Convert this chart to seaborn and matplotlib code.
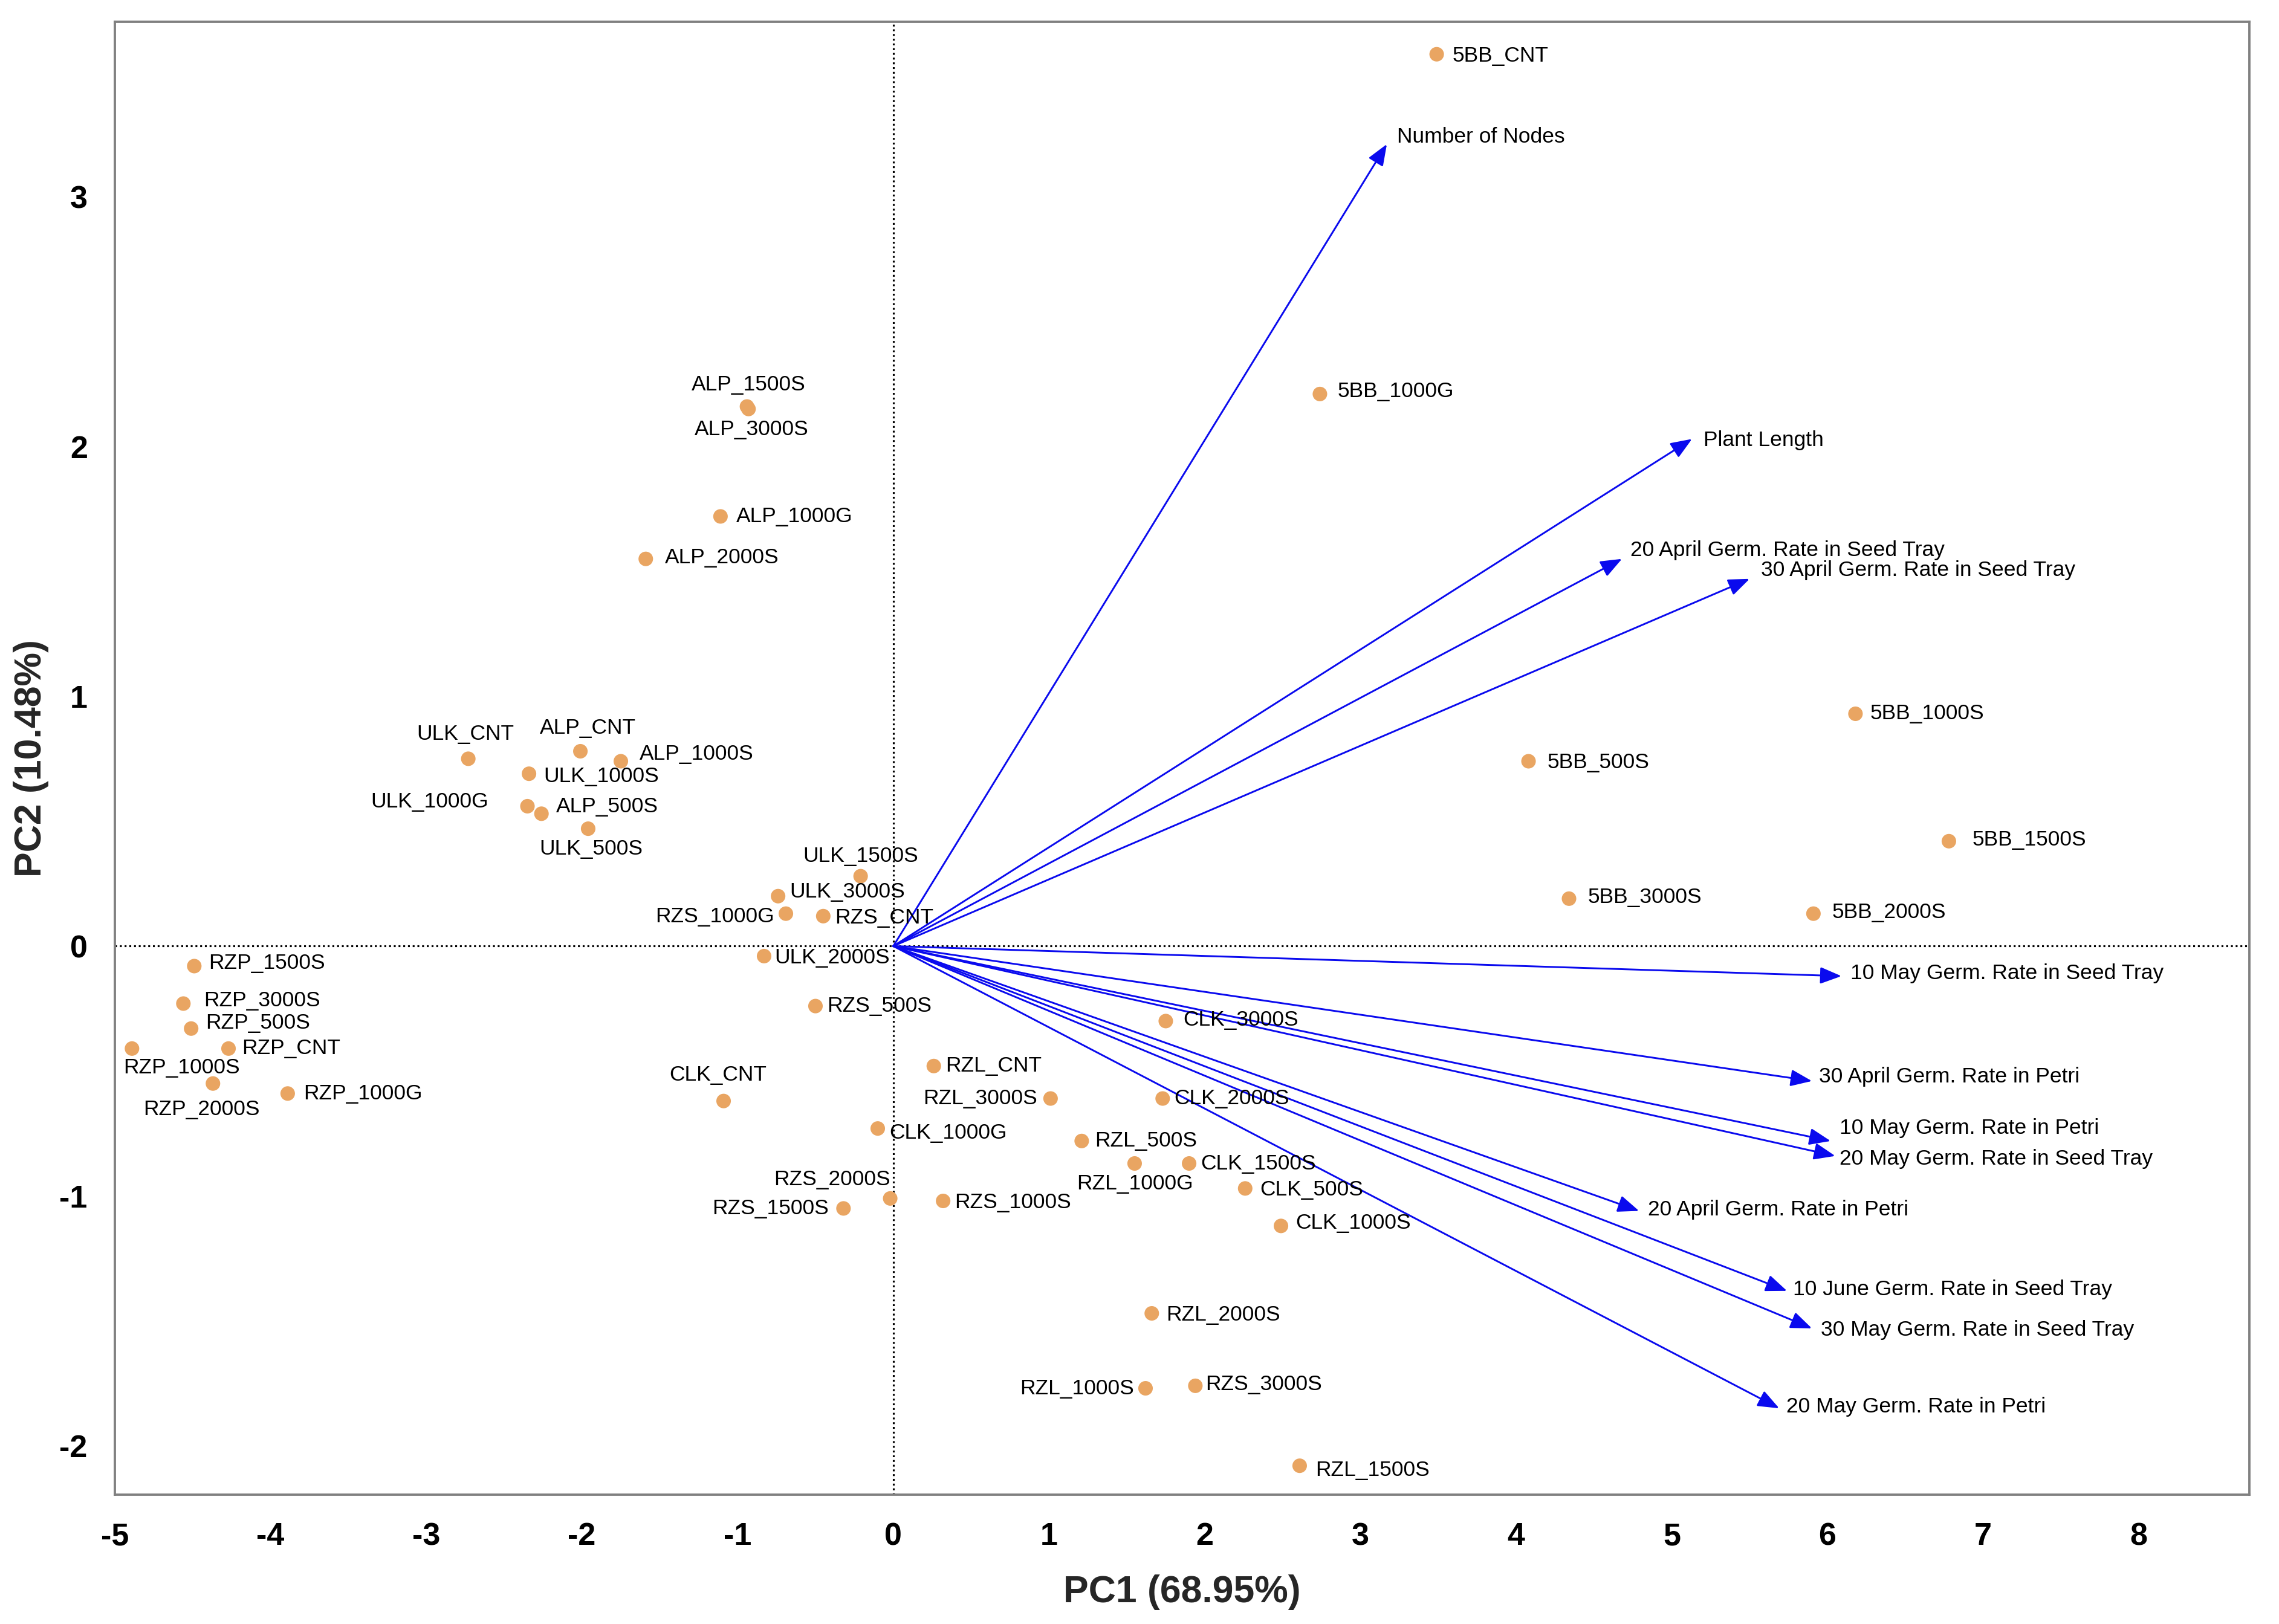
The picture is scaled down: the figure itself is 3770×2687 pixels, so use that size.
import pandas as pd
import seaborn as sns
import matplotlib.pyplot as plt

# ───────────────────────
# 1. Data (scores and loadings)
# ───────────────────────
sample_names = [
    "5BB_CNT", "5BB_1000G", "5BB_1000S", "5BB_500S", "5BB_1500S", "5BB_3000S", "5BB_2000S",
    "ALP_1500S", "ALP_3000S", "ALP_1000G", "ALP_2000S", "ALP_CNT", "ALP_1000S", "ALP_500S",
    "ULK_CNT", "ULK_1000S", "ULK_1000G", "ULK_500S", "ULK_1500S", "ULK_3000S", "ULK_2000S",
    "RZS_1000G", "RZS_CNT", "RZS_500S", "RZS_2000S", "RZS_1500S", "RZS_1000S", "RZS_3000S",
    "RZP_1500S", "RZP_3000S", "RZP_500S", "RZP_CNT", "RZP_1000S", "RZP_2000S", "RZP_1000G",
    "CLK_CNT", "CLK_1000G", "CLK_3000S", "CLK_2000S", "CLK_1500S", "CLK_500S", "CLK_1000S",
    "RZL_CNT", "RZL_3000S", "RZL_500S", "RZL_1000G", "RZL_2000S", "RZL_1000S", "RZL_1500S",
]
pc1_scores = [
    3.49, 2.74, 6.18, 4.08, 6.78, 4.34, 5.91,
    -0.94, -0.93, -1.11, -1.59, -2.01, -1.75, -2.26,
    -2.73, -2.34, -2.35, -1.96, -0.21, -0.74, -0.83,
    -0.69, -0.45, -0.50, -0.02, -0.32, 0.32, 1.94,
    -4.49, -4.56, -4.51, -4.27, -4.89, -4.37, -3.89,
    -1.09, -0.10, 1.75, 1.73, 1.90, 2.26, 2.49,
    0.26, 1.01, 1.21, 1.55, 1.66, 1.62, 2.61,
]
pc2_scores = [
    3.57, 2.21, 0.93, 0.74, 0.42, 0.19, 0.13,
    2.16, 2.15, 1.72, 1.55, 0.78, 0.74, 0.53,
    0.75, 0.69, 0.56, 0.47, 0.28, 0.20, -0.04,
    0.13, 0.12, -0.24, -1.01, -1.05, -1.02, -1.76,
    -0.08, -0.23, -0.33, -0.41, -0.41, -0.55, -0.59,
    -0.62, -0.73, -0.30, -0.61, -0.87, -0.97, -1.12,
    -0.48, -0.61, -0.78, -0.87, -1.47, -1.77, -2.08,
]

variable_names = [
    "Number of Nodes", "Plant Length",
    "20 April Germ. Rate in Seed Tray", "30 April Germ. Rate in Seed Tray",
    "10 May Germ. Rate in Seed Tray", "30 April Germ. Rate in Petri",
    "10 May Germ. Rate in Petri", "20 May Germ. Rate in Seed Tray",
    "20 April Germ. Rate in Petri", "10 June Germ. Rate in Seed Tray",
    "30 May Germ. Rate in Seed Tray", "20 May Germ. Rate in Petri",
]
load_pc1 = [3.17, 5.13, 4.68, 5.50, 6.09, 5.90, 6.02, 6.05, 4.79, 5.74, 5.90, 5.69]
load_pc2 = [3.21, 2.03, 1.55, 1.47, -0.12, -0.54, -0.78, -0.84, -1.06, -1.38, -1.53, -1.85]

x_ticks = list(range(-5, 9))
y_ticks = list(range(-2, 4))

# ───────────────────────
# 2. Label layout (offsets in px of the reduced view, dy up)
# ───────────────────────
sample_label_pos = {
    "5BB_CNT": (11, -1, "left"), "5BB_1000G": (12, 2, "left"),
    "5BB_1000S": (10, 0, "left"), "5BB_500S": (13, -1, "left"),
    "5BB_1500S": (16, 1, "left"), "5BB_3000S": (13, 1, "left"),
    "5BB_2000S": (13, 1, "left"),
    "ALP_1500S": (1, 15, "center"), "ALP_3000S": (2, -14, "center"),
    "ALP_1000G": (11, 0, "left"), "ALP_2000S": (13, 1, "left"),
    "ALP_CNT": (5, 16, "center"), "ALP_1000S": (13, 5, "left"),
    "ALP_500S": (10, 5, "left"),
    "ULK_CNT": (-2, 17, "center"), "ULK_1000S": (10, -2, "left"),
    "ULK_1000G": (-27, 3, "right"), "ULK_500S": (2, -14, "center"),
    "ULK_1500S": (0, 14, "center"), "ULK_3000S": (8, 3, "left"),
    "ULK_2000S": (7, -1, "left"),
    "RZS_1000G": (-8, -2, "right"), "RZS_CNT": (8, -1, "left"),
    "RZS_500S": (8, 0, "left"), "RZS_2000S": (0, 13, "right"),
    "RZS_1500S": (-10, 0, "right"), "RZS_1000S": (8, -1, "left"),
    "RZS_3000S": (7, 1, "left"),
    "RZP_1500S": (10, 2, "left"), "RZP_3000S": (14, 2, "left"),
    "RZP_500S": (10, 4, "left"), "RZP_CNT": (9, 0, "left"),
    "RZP_1000S": (34, -13, "center"), "RZP_2000S": (-8, -18, "center"),
    "RZP_1000G": (11, 0, "left"),
    "CLK_CNT": (-4, 18, "center"), "CLK_1000G": (8, -3, "left"),
    "CLK_3000S": (12, 1, "left"), "CLK_2000S": (8, 0, "left"),
    "CLK_1500S": (8, 0, "left"), "CLK_500S": (10, -1, "left"),
    "CLK_1000S": (10, 2, "left"),
    "RZL_CNT": (8, 0, "left"), "RZL_3000S": (-9, 0, "right"),
    "RZL_500S": (9, 0, "left"), "RZL_1000G": (0, -14, "center"),
    "RZL_2000S": (10, -1, "left"), "RZL_1000S": (-8, 0, "right"),
    "RZL_1500S": (11, -3, "left"),
}
arrow_label_pos = [(7, 5), (8, -1), (6, 6), (8, 6), (6, 2), (5, 3),
                   (6, 9), (3, -2), (6, 1), (4, 1), (6, -1), (5, 1)]
PX = 0.692  # reduced-view px -> points

# ───────────────────────
# 3. Style
# ───────────────────────
sns.set_style("white")
plt.rcParams["font.family"] = ["Liberation Sans", "DejaVu Sans"]

DOT = "#E9A562"
ARROW = "#0A0AEE"
GREY = "#808080"
LABEL_SIZE = 10.2

df = pd.DataFrame({"sample": sample_names, "PC1": pc1_scores, "PC2": pc2_scores})

fig = plt.figure(figsize=(15.08, 10.748), dpi=250)
ax = fig.add_axes([0.0504, 0.0796, 0.9366, 0.907])

ax.axhline(0, color="black", ls=(0, (1, 1.5)), lw=0.9, zorder=1)
ax.axvline(0, color="black", ls=(0, (1, 1.5)), lw=0.9, zorder=1)

# loading arrows
for name, lx, ly, (dx, dy) in zip(variable_names, load_pc1, load_pc2, arrow_label_pos):
    ax.annotate("", xy=(lx, ly), xytext=(0, 0),
                arrowprops=dict(arrowstyle="-|>,head_length=0.86,head_width=0.34",
                                mutation_scale=10, color=ARROW, lw=0.85,
                                shrinkA=0, shrinkB=0),
                zorder=2)
    ax.annotate(name, xy=(lx, ly), xytext=(dx * PX, dy * PX),
                textcoords="offset points", ha="left", va="center",
                fontsize=LABEL_SIZE, color="black")

# sample scores
sns.scatterplot(data=df, x="PC1", y="PC2", color=DOT, s=48,
                edgecolor="none", ax=ax, zorder=3, legend=False)

for name, x, y in zip(sample_names, pc1_scores, pc2_scores):
    dx, dy, ha = sample_label_pos[name]
    ax.annotate(name, xy=(x, y), xytext=(dx * PX, dy * PX),
                textcoords="offset points", ha=ha, va="center",
                fontsize=LABEL_SIZE, color="black")

ax.set_xlim(-5, 8.71)
ax.set_ylim(-2.196, 3.70)
ax.set_xticks(x_ticks)
ax.set_yticks(y_ticks)
ax.set_xticklabels([str(t) for t in x_ticks], fontsize=15, fontweight="bold")
ax.set_yticklabels([str(t) for t in y_ticks], fontsize=15, fontweight="bold")
ax.tick_params(direction="out", length=7, width=1, color=GREY,
               labelcolor="black", pad=6)
for sp in ax.spines.values():
    sp.set_color(GREY)
    sp.set_linewidth(1.1)

ax.set_xlabel("PC1 (68.95%)", fontsize=18, fontweight="bold", labelpad=11)
ax.set_ylabel("PC2 (10.48%)", fontsize=18, fontweight="bold", labelpad=5)

fig.savefig("out.png", dpi=250)
plt.close(fig)
